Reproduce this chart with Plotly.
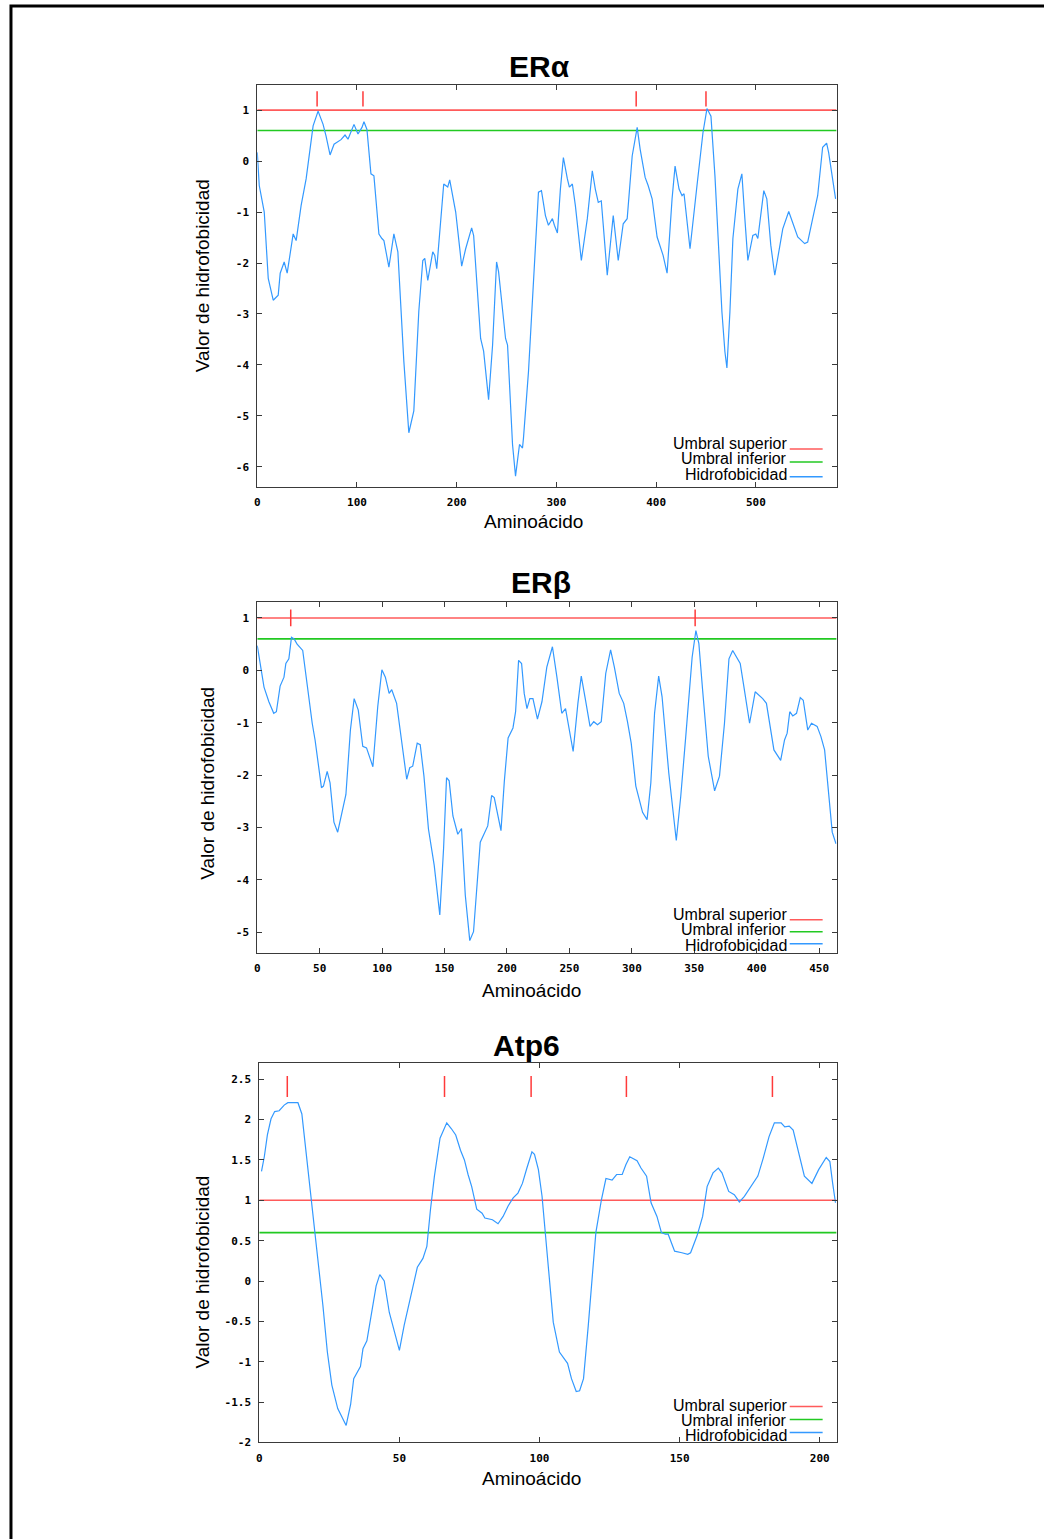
import plotly.graph_objects as go

# ---------------- data ----------------
ERA_X = [0, 2, 7, 11, 16, 21, 23, 27, 30, 36, 39, 44, 49, 56, 61, 66, 69, 73, 77, 84, 88, 91, 97, 101,
         105, 107, 110, 114, 117, 122, 125, 127, 132, 137, 141, 147, 152, 157, 162, 166, 168, 171, 176,
         178, 180, 187, 191, 193, 199, 205, 209, 215, 217, 224, 227, 232, 236, 240, 242, 249, 251, 256,
         259, 263, 266, 267, 272, 277, 282, 285, 289, 292, 296, 298, 301, 304, 307, 311, 313, 316, 319,
         325, 331, 336, 339, 342, 345, 347, 351, 355, 357, 362, 367, 371, 376, 381, 384, 389, 392, 396,
         401, 407, 411, 416, 419, 423, 426, 428, 434, 441, 447, 451, 455, 459, 466, 469, 471, 474, 477,
         482, 486, 489, 492, 497, 500, 502, 508, 511, 515, 519, 524, 527, 533, 537, 542, 549, 552, 557,
         562, 567, 571, 573, 577, 580]
ERA_Y = [0.17, -0.48, -1.0, -2.3, -2.73, -2.63, -2.2, -1.98, -2.2, -1.43, -1.56, -0.87, -0.35, 0.69,
         0.98, 0.72, 0.49, 0.12, 0.33, 0.42, 0.51, 0.43, 0.72, 0.53, 0.66, 0.77, 0.62, -0.25, -0.29,
         -1.43, -1.52, -1.56, -2.08, -1.43, -1.78, -3.93, -5.33, -4.9, -2.95, -1.95, -1.91, -2.34,
         -1.78, -1.85, -2.11, -0.45, -0.51, -0.37, -1.0, -2.06, -1.72, -1.31, -1.46, -3.48, -3.73,
         -4.68, -3.61, -1.98, -2.17, -3.48, -3.61, -5.56, -6.18, -5.56, -5.63, -5.43, -4.13, -2.43,
         -0.61, -0.58, -1.07, -1.26, -1.13, -1.26, -1.41, -0.55, 0.07, -0.35, -0.51, -0.45, -0.87,
         -1.95, -1.13, -0.19, -0.55, -0.81, -0.78, -1.26, -2.24, -1.46, -1.07, -1.95, -1.23, -1.13,
         0.10, 0.66, 0.23, -0.32, -0.48, -0.74, -1.49, -1.85, -2.2, -0.74, -0.1, -0.55, -0.68, -0.64,
         -1.72, -0.48, 0.56, 1.03, 0.88, -0.29, -2.96, -3.74, -4.06, -2.96, -1.52, -0.55, -0.25,
         -1.13, -1.95, -1.46, -1.43, -1.52, -0.58, -0.74, -1.65, -2.24, -1.65, -1.33, -0.99, -1.2,
         -1.49, -1.62, -1.59, -1.13, -0.68, 0.27, 0.35, 0.17, -0.35, -0.74]
ERA_PEAKS = [60, 106, 380, 450]

ERB_X = [0, 2.4, 5.4, 9.3, 13.2, 15.3, 18.3, 21.4, 22.9, 25.3, 27.4, 29.5, 31.9, 36.4, 40.9, 44, 46.3,
         49.3, 51.4, 53, 56, 58.3, 61.4, 64.4, 68, 71, 74.6, 77.6, 80.9, 84.5, 87.5, 92.6, 96.5, 99.8,
         102.6, 105.6, 107.7, 111.6, 115.5, 119.7, 122.1, 124.5, 128.1, 130.5, 133.5, 137.1, 141.7,
         146.2, 149.2, 151.6, 153.7, 156.7, 160.6, 163.6, 166.6, 170.2, 173.2, 176.2, 178.6, 184.6,
         187.7, 189.8, 195.2, 197.9, 200.9, 204.8, 206.9, 209.3, 211.7, 213.8, 216, 218.3, 220.8,
         224.4, 228, 231.9, 236.4, 240, 243.9, 246.9, 253, 256.8, 259.5, 262.9, 266.5, 269.5, 272.5,
         275.5, 279.1, 283, 286, 289.9, 293.5, 296.5, 299.5, 303.2, 308.6, 312.2, 315.2, 318.2, 321.5,
         324.2, 329.6, 335.6, 339.2, 343.2, 348.3, 351.3, 353.7, 356.7, 361.2, 366.3, 370.2, 374.2,
         377.8, 380.8, 386.8, 389.8, 394.3, 398.8, 404.8, 407.8, 413.8, 419.2, 422.3, 424.4, 426.5,
         428.9, 431.9, 434.9, 437.3, 440.9, 443.9, 448.4, 451.4, 454.4, 457.5, 460.5, 463.5]
ERB_Y = [0.47, 0.13, -0.32, -0.6, -0.82, -0.79, -0.30, -0.13, 0.13, 0.22, 0.63, 0.6, 0.5, 0.38, -0.5,
         -1.01, -1.33, -1.83, -2.24, -2.21, -1.93, -2.15, -2.9, -3.09, -2.71, -2.37, -1.14, -0.54,
         -0.76, -1.45, -1.48, -1.84, -0.69, 0.01, -0.13, -0.44, -0.37, -0.63, -1.33, -2.08, -1.86,
         -1.83, -1.39, -1.42, -2.02, -3.03, -3.72, -4.67, -3.41, -2.05, -2.11, -2.78, -3.13, -3.02,
         -4.29, -5.16, -4.99, -3.98, -3.28, -2.97, -2.39, -2.43, -3.06, -2.11, -1.29, -1.1, -0.79,
         0.19, 0.13, -0.44, -0.73, -0.54, -0.54, -0.93, -0.6, 0.06, 0.45, -0.13, -0.82, -0.73, -1.55,
         -0.63, -0.11, -0.57, -1.07, -0.98, -1.04, -0.98, -0.06, 0.39, 0.06, -0.44, -0.63, -0.98,
         -1.39, -2.21, -2.71, -2.85, -2.15, -0.82, -0.11, -0.5, -1.96, -3.25, -2.4, -1.26, 0.25, 0.76,
         0.51, -0.38, -1.64, -2.30, -2.02, -1.01, 0.22, 0.38, 0.13, -0.32, -1.01, -0.41, -0.54, -0.63,
         -1.52, -1.72, -1.33, -1.2, -0.79, -0.87, -0.82, -0.52, -0.57, -1.14, -1.01, -1.07, -1.26,
         -1.52, -2.4, -3.09, -3.31]
ERB_PEAKS = [26.8, 350.7]

ATP_X = [0.8, 1.8, 2.9, 4.2, 5.5, 7.1, 8.9, 10.2, 11.9, 13.8, 15.2, 16.2, 17.6, 18.9, 20, 21.3, 22.7,
         24.3, 25.9, 28, 31, 32.6, 33.7, 36.1, 37, 38.4, 40.1, 41.7, 43, 44.6, 46.4, 48.1, 50, 51.7,
         54.4, 56.4, 58.4, 59.8, 61.1, 62.5, 64.5, 66.9, 68.5, 70.1, 71.8, 73.2, 74.5, 75.8, 77.6,
         79.5, 80.5, 83.2, 85.2, 87, 88.8, 90.6, 92.3, 93.9, 95.5, 97.3, 98.2, 99.6, 100.9, 102, 103.3,
         104.9, 107.1, 110, 111.4, 113.1, 114.3, 115.7, 117.4, 118.8, 120.1, 122.1, 123.7, 125.9,
         127.5, 129.5, 130.8, 132.2, 134.8, 136.2, 138.2, 139.8, 141.9, 143.5, 144.9, 145.9, 148.2,
         150.8, 152.9, 153.9, 156.2, 158.2, 159.8, 161.9, 163.8, 165.1, 167.5, 169.5, 171.3, 173.1,
         175.5, 177.9, 179.8, 181.9, 183.8, 186.2, 187.5, 189.1, 190.5, 192.2, 194.5, 197.2, 199.6,
         202.3, 203.6, 204.6, 205.6]
ATP_Y = [1.36, 1.54, 1.81, 2.01, 2.10, 2.11, 2.18, 2.21, 2.21, 2.21, 2.07, 1.75, 1.38, 0.89, 0.6, 0.19,
         -0.30, -0.88, -1.29, -1.58, -1.79, -1.53, -1.21, -1.06, -0.84, -0.74, -0.39, -0.06, 0.08, 0.0,
         -0.39, -0.61, -0.86, -0.55, -0.14, 0.17, 0.28, 0.43, 0.89, 1.30, 1.77, 1.96, 1.89, 1.81, 1.62,
         1.50, 1.32, 1.17, 0.89, 0.84, 0.78, 0.76, 0.71, 0.8, 0.93, 1.03, 1.09, 1.21, 1.40, 1.60, 1.57,
         1.38, 1.05, 0.60, 0.06, -0.51, -0.88, -1.02, -1.21, -1.37, -1.36, -1.21, -0.55, 0.06, 0.60,
         1.01, 1.27, 1.25, 1.32, 1.32, 1.44, 1.54, 1.49, 1.40, 1.30, 0.97, 0.80, 0.60, 0.58, 0.58, 0.37,
         0.35, 0.33, 0.35, 0.56, 0.80, 1.17, 1.34, 1.40, 1.34, 1.11, 1.07, 0.98, 1.05, 1.17, 1.30, 1.52,
         1.79, 1.96, 1.96, 1.91, 1.92, 1.87, 1.64, 1.30, 1.21, 1.38, 1.53, 1.48, 1.21, 0.97]
ATP_PEAKS = [10.0, 66.1, 97.0, 131.0, 183.1]

UPPER = 1.0
LOWER = 0.6

TITLES = ["ERα", "ERβ", "Atp6"]
SERIES_NAMES = ["Umbral superior", "Umbral inferior", "Hidrofobicidad"]
Y_TITLE = "Valor de hidrofobicidad"
X_TITLE = "Aminoácido"

ERA_XTICKS = [0, 100, 200, 300, 400, 500]
ERA_YTICKS = [-6, -5, -4, -3, -2, -1, 0, 1]
ERB_XTICKS = [0, 50, 100, 150, 200, 250, 300, 350, 400, 450]
ERB_YTICKS = [-5, -4, -3, -2, -1, 0, 1]
ATP_XTICKS = [0, 50, 100, 150, 200]
ATP_YTICKS = [-2, -1.5, -1, -0.5, 0, 0.5, 1, 1.5, 2, 2.5]

# ---------------- style ----------------
W, H = 1044, 1539
RED = "#ff5a5a"
RED_MARK = "#ff3a3a"
GREEN = "#22c922"
BLUE = "#3399ff"
AXC = "#3a3a3a"


def px(x):
    return x / W


def py(y):
    return 1 - y / H


def lab(v):
    return "%g" % v


panels = [
    dict(x=ERA_X, y=ERA_Y, peaks=ERA_PEAKS, peak_y=1.22, peak_size=11, xr=[0, 581], yr=[-6.39, 1.5],
         xt=ERA_XTICKS, yt=ERA_YTICKS, box=(255, 836, 85, 489), title_c=(538, 67),
         ytitle_c=(200, 277), xtitle_c=(532, 524), leg_text=[446, 461, 477], leg_line=[451, 464, 479]),
    dict(x=ERB_X, y=ERB_Y, peaks=ERB_PEAKS, peak_y=1.0, peak_size=12, xr=[0, 464], yr=[-5.39, 1.3],
         xt=ERB_XTICKS, yt=ERB_YTICKS, box=(255, 836, 605, 957), title_c=(540, 585),
         ytitle_c=(205, 787), xtitle_c=(530, 995), leg_text=[919, 934, 950], leg_line=[924, 936, 948]),
    dict(x=ATP_X, y=ATP_Y, peaks=ATP_PEAKS, peak_y=2.41, peak_size=15, xr=[0, 206], yr=[-2, 2.7],
         xt=ATP_XTICKS, yt=ATP_YTICKS, box=(257, 836, 1068, 1449), title_c=(525, 1050),
         ytitle_c=(200, 1278), xtitle_c=(530, 1485), leg_text=[1412, 1427, 1442], leg_line=[1413, 1426, 1439]),
]

fig = go.Figure()
annotations = []
shapes = []
layout_axes = {}

for i, p in enumerate(panels):
    n = "" if i == 0 else str(i + 1)
    xa, ya = "x" + n, "y" + n
    x0, x1 = p["xr"]
    fig.add_trace(go.Scatter(x=[x0, x1], y=[UPPER, UPPER], mode="lines", xaxis=xa, yaxis=ya,
                             line=dict(color=RED, width=1.6), showlegend=False, hoverinfo="skip"))
    fig.add_trace(go.Scatter(x=[x0, x1], y=[LOWER, LOWER], mode="lines", xaxis=xa, yaxis=ya,
                             line=dict(color=GREEN, width=1.6), showlegend=False, hoverinfo="skip"))
    fig.add_trace(go.Scatter(x=p["x"], y=p["y"], mode="lines", xaxis=xa, yaxis=ya,
                             line=dict(color=BLUE, width=1.2), showlegend=False, name=SERIES_NAMES[2]))
    fig.add_trace(go.Scatter(x=p["peaks"], y=[p["peak_y"]] * len(p["peaks"]), mode="markers",
                             xaxis=xa, yaxis=ya, showlegend=False, hoverinfo="skip",
                             marker=dict(symbol="line-ns", size=p["peak_size"],
                                         line=dict(color=RED_MARK, width=1.5))))

    l, r, t, b = p["box"]
    common = dict(showline=True, linecolor=AXC, linewidth=1, mirror="ticks", ticks="inside",
                  ticklen=5, tickcolor=AXC, tickwidth=1, showgrid=False, zeroline=False,
                  tickfont=dict(family="DejaVu Sans Mono", size=11, color="black", weight="bold"))
    layout_axes["xaxis" + n] = dict(common, domain=[px(l), px(r)], range=p["xr"], anchor=ya,
                                    tickvals=p["xt"], ticktext=[lab(v) for v in p["xt"]],
                                    ticklabelstandoff=5)
    layout_axes["yaxis" + n] = dict(common, domain=[py(b), py(t)], range=p["yr"], anchor=xa,
                                    tickvals=p["yt"], ticktext=[lab(v) for v in p["yt"]],
                                    ticklabelstandoff=5)

    annotations.append(dict(text="<b>%s</b>" % TITLES[i], x=px(p["title_c"][0]), y=py(p["title_c"][1]),
                            xref="paper", yref="paper", showarrow=False, xanchor="center",
                            yanchor="middle", font=dict(family="Liberation Sans", size=30, color="black")))
    annotations.append(dict(text=Y_TITLE, x=px(p["ytitle_c"][0]), y=py(p["ytitle_c"][1]), textangle=-90,
                            xref="paper", yref="paper", showarrow=False, xanchor="center",
                            yanchor="middle", font=dict(family="Liberation Sans", size=19, color="black")))
    annotations.append(dict(text=X_TITLE, x=px(p["xtitle_c"][0]), y=py(p["xtitle_c"][1]),
                            xref="paper", yref="paper", showarrow=False, xanchor="center",
                            yanchor="middle", font=dict(family="Liberation Sans", size=19, color="black")))
    for name, col, ty, ly in zip(SERIES_NAMES, [RED, GREEN, BLUE], p["leg_text"], p["leg_line"]):
        annotations.append(dict(text=name, x=px(788), y=py(ty), xref="paper", yref="paper",
                                showarrow=False, xanchor="right", yanchor="middle",
                                font=dict(family="Liberation Sans", size=16, color="black")))
        shapes.append(dict(type="line", xref="paper", yref="paper", x0=px(789), x1=px(822),
                           y0=py(ly), y1=py(ly), line=dict(color=col, width=1.5)))

shapes.append(dict(type="rect", xref="paper", yref="paper", x0=px(8), x1=px(W + 20),
                   y0=py(H + 20), y1=py(6), line=dict(color="black", width=3), layer="above"))

fig.update_layout(width=W, height=H, margin=dict(l=0, r=0, t=0, b=0), paper_bgcolor="white",
                  plot_bgcolor="white", showlegend=False, annotations=annotations, shapes=shapes,
                  **layout_axes)

fig.write_html("out.html", config={"displayModeBar": False},
               post_script="document.body.style.margin='0';")
